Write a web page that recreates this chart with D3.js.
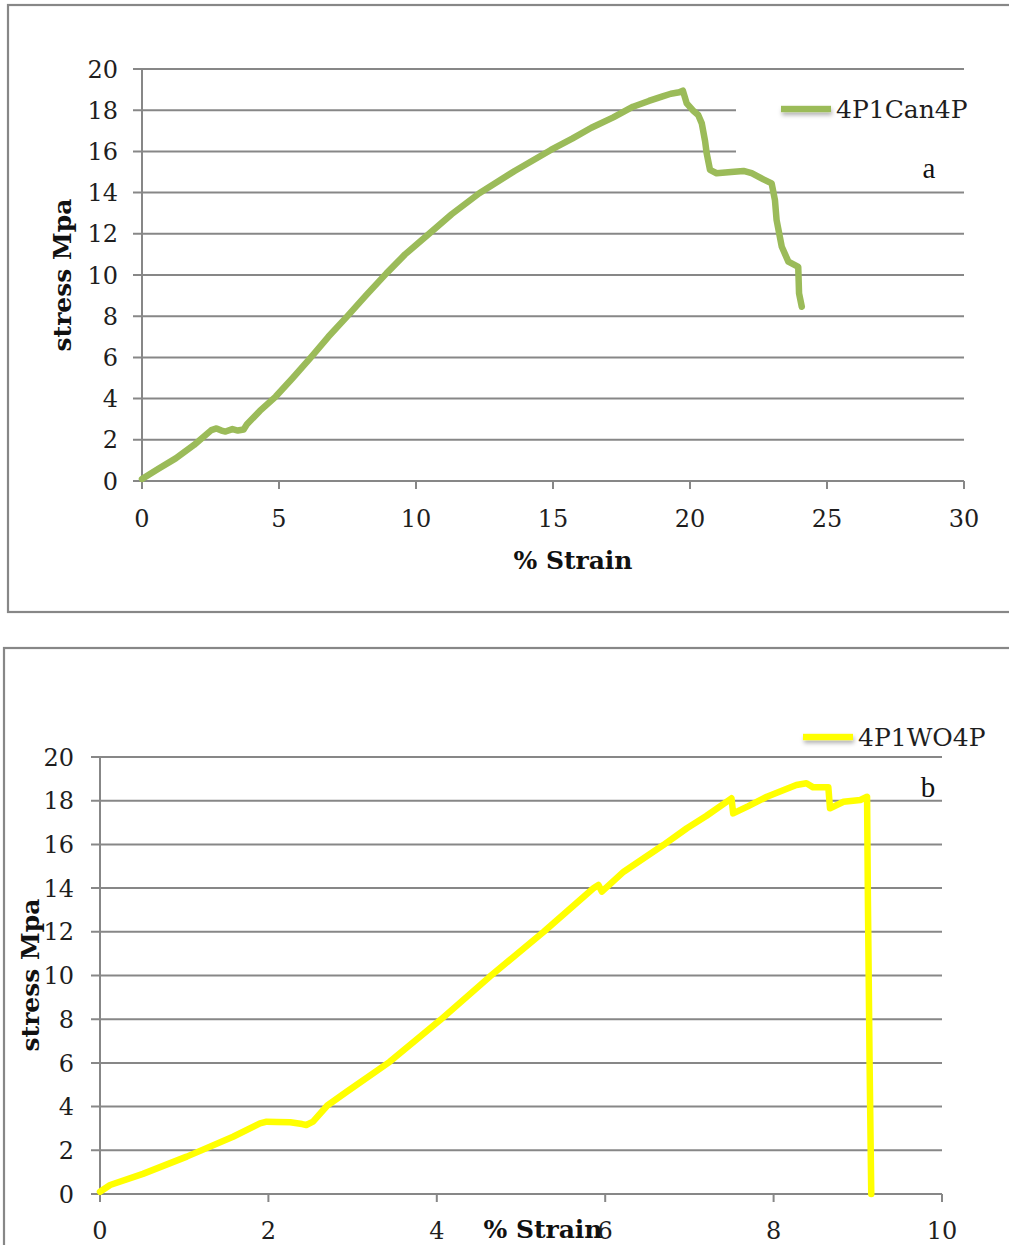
<!DOCTYPE html>
<html>
<head>
<meta charset="utf-8">
<script src="https://cdn.jsdelivr.net/npm/d3@7"></script>
<style>
  html, body { margin: 0; padding: 0; background: #fff; overflow: hidden; }
  svg { display: block; }
  .tick-label { font-family: "DejaVu Serif", serif; font-size: 24px; fill: #1e1e1e; }
  .axis-title { font-family: "DejaVu Serif", serif; font-size: 25px; font-weight: bold; fill: #111; }
  .legend-text { font-family: "DejaVu Serif", serif; font-size: 25px; fill: #1e1e1e; }
  .panel-tag { font-family: "Liberation Serif", serif; font-size: 29px; fill: #111; }
</style>
</head>
<body>
<div id="box"></div>
<script>
// chart a : 4P1Can4P
const strainA = [0, 0.6, 1.23, 1.9, 2.53, 2.72, 2.9, 3.05, 3.3, 3.5, 3.71, 3.83, 4.3, 4.88, 5.5, 6.18, 6.8, 7.48, 8.2, 8.92, 9.6, 10.35, 11.3, 12.31, 13.6, 14.92, 15.7, 16.4, 17.2, 17.92, 18.5, 19.0, 19.3, 19.61, 19.74,
  19.82, 19.88, 20.1, 20.3, 20.43, 20.55, 20.61, 20.73, 20.97, 21.5, 21.95, 22.25, 22.68, 22.98, 23.1, 23.16, 23.35, 23.59, 23.95, 23.98, 24.08];
const stressA = [0.1, 0.6, 1.1, 1.75, 2.47, 2.55, 2.45, 2.4, 2.52, 2.45, 2.5, 2.75, 3.4, 4.1, 5.0, 6.03, 7.0, 7.98, 9.05, 10.08, 11.0, 11.86, 12.95, 13.97, 15.05, 16.07, 16.62, 17.15, 17.65, 18.17, 18.45, 18.67, 18.8, 18.87, 18.95,
  18.6, 18.33, 18.0, 17.77, 17.36, 16.5, 15.9, 15.1, 14.94, 15.0, 15.05, 14.94, 14.64, 14.45, 13.64, 12.67, 11.37, 10.65, 10.4, 9.11, 8.46];

// chart b : 4P1WO4P
const strainB = [0, 0.12, 0.51, 1.03, 1.58, 1.9, 1.98, 2.1, 2.26, 2.4, 2.45, 2.53, 2.7, 2.93, 3.44, 4.04, 4.63, 5.27, 5.86, 5.92, 5.96, 6.22, 6.69, 6.97, 7.2, 7.5, 7.52, 7.7, 7.92, 8.27, 8.39, 8.47, 8.65, 8.67, 8.83, 9.03, 9.11, 9.12, 9.14, 9.16];
const stressB = [0.1, 0.41, 0.92, 1.71, 2.62, 3.23, 3.31, 3.3, 3.28, 3.2, 3.16, 3.31, 4.05, 4.68, 6.05, 7.96, 9.95, 12.0, 13.99, 14.14, 13.84, 14.75, 15.97, 16.74, 17.3, 18.11, 17.42, 17.75, 18.18, 18.72, 18.8, 18.61, 18.61, 17.65, 17.95, 18.03, 18.18, 13.45, 6.0, 0];

const yTicks = [0, 2, 4, 6, 8, 10, 12, 14, 16, 18, 20];
const xTicksA = [0, 5, 10, 15, 20, 25, 30];
const xTicksB = [0, 2, 4, 6, 8, 10];

const width = 1009, height = 1245;
const gridColor = '#878787';

const svg = d3.select('#box').append('svg')
  .attr('width', width)
  .attr('height', height);

const defs = svg.append('defs');
const shadow = defs.append('filter').attr('id', 'shadow')
  .attr('filterUnits', 'userSpaceOnUse')
  .attr('x', 0).attr('y', 0).attr('width', width).attr('height', height);
shadow.append('feDropShadow')
  .attr('dx', 1).attr('dy', 3).attr('stdDeviation', 2)
  .attr('flood-color', '#000').attr('flood-opacity', 0.3);

function drawChart(cfg) {
  const g = svg.append('g');

  // outer frame
  g.append('rect')
    .attr('x', cfg.frame[0]).attr('y', cfg.frame[1])
    .attr('width', cfg.frame[2]).attr('height', cfg.frame[3])
    .style('fill', 'none').style('stroke', gridColor).style('stroke-width', 2.2);

  const x = d3.scaleLinear().domain([0, cfg.xMax]).range([cfg.left, cfg.right]);
  const y = d3.scaleLinear().domain([0, 20]).range([cfg.bottom, cfg.top]);

  // horizontal grid + y ticks
  g.selectAll('.grid').data(yTicks)
    .join('line')
      .attr('class', 'grid')
      .attr('x1', cfg.left - 9).attr('x2', cfg.right)
      .attr('y1', d => y(d)).attr('y2', d => y(d))
      .style('stroke', gridColor).style('stroke-width', 2);

  // y axis line
  g.append('line')
    .attr('x1', cfg.left).attr('x2', cfg.left)
    .attr('y1', cfg.top).attr('y2', cfg.bottom + 8)
    .style('stroke', gridColor).style('stroke-width', 2);

  // x ticks
  g.selectAll('.xtick').data(cfg.xTicks)
    .join('line')
      .attr('class', 'xtick')
      .attr('x1', d => x(d)).attr('x2', d => x(d))
      .attr('y1', cfg.bottom).attr('y2', cfg.bottom + 8)
      .style('stroke', gridColor).style('stroke-width', 2);

  g.selectAll('.ylab').data(yTicks)
    .join('text')
      .attr('class', 'tick-label')
      .attr('x', cfg.yLabX)
      .attr('y', d => y(d))
      .attr('dy', '0.36em')
      .attr('text-anchor', 'end')
      .text(d => d);

  g.selectAll('.xlab').data(cfg.xTicks)
    .join('text')
      .attr('class', 'tick-label')
      .attr('x', d => x(d))
      .attr('y', cfg.xLabY)
      .attr('dy', '0.36em')
      .attr('text-anchor', 'middle')
      .text(d => d);

  // legend box hides grid behind it
  if (cfg.legendBox) {
    g.append('rect')
      .attr('x', cfg.legendBox[0]).attr('y', cfg.legendBox[1])
      .attr('width', cfg.legendBox[2]).attr('height', cfg.legendBox[3])
      .style('fill', '#fff');
  }

  const line = d3.line().x(d => x(d[0])).y(d => y(d[1]));
  g.append('path')
    .datum(d3.zip(cfg.strain, cfg.stress))
    .attr('d', line)
    .style('fill', 'none')
    .style('stroke', cfg.color)
    .style('stroke-width', 6.5)
    .style('stroke-linejoin', 'round')
    .style('stroke-linecap', 'round');

  // legend
  g.append('rect')
    .attr('x', cfg.legend[0]).attr('y', cfg.legend[1] - 3.2)
    .attr('width', 50).attr('height', 6.4)
    .attr('filter', 'url(#shadow)')
    .style('fill', cfg.color);
  g.append('text')
    .attr('class', 'legend-text')
    .attr('x', cfg.legend[0] + 55).attr('y', cfg.legend[1])
    .attr('dy', '0.36em')
    .text(cfg.name);

  g.append('text')
    .attr('class', 'panel-tag')
    .attr('x', cfg.tag[0]).attr('y', cfg.tag[1])
    .attr('text-anchor', 'middle')
    .text(cfg.tagText);

  // axis titles
  g.append('text')
    .attr('class', 'axis-title')
    .attr('x', cfg.xTitle[0]).attr('y', cfg.xTitle[1])
    .attr('text-anchor', 'middle')
    .text('% Strain');
  g.append('text')
    .attr('class', 'axis-title')
    .attr('transform', `translate(${cfg.yTitle[0]},${cfg.yTitle[1]}) rotate(-90)`)
    .attr('text-anchor', 'middle')
    .attr('dy', '0.36em')
    .text('stress Mpa');
}

drawChart({
  frame: [8, 5, 1010, 607],
  left: 142, right: 964, top: 69, bottom: 481,
  xMax: 30, xTicks: xTicksA,
  yLabX: 118, xLabY: 518,
  legendBox: [736, 92, 230, 68],
  strain: strainA, stress: stressA,
  color: '#9bbb59', name: '4P1Can4P',
  legend: [781, 109],
  tag: [929, 178], tagText: 'a',
  xTitle: [573, 569], yTitle: [62, 275]
});

drawChart({
  frame: [4, 648, 1015, 620],
  left: 100, right: 942, top: 757, bottom: 1194,
  xMax: 10, xTicks: xTicksB,
  yLabX: 74, xLabY: 1230,
  legendBox: null,
  strain: strainB, stress: stressB,
  color: '#ffff00', name: '4P1WO4P',
  legend: [803, 737],
  tag: [928, 797], tagText: 'b',
  xTitle: [543, 1238], yTitle: [30, 975]
});
</script>
</body>
</html>
